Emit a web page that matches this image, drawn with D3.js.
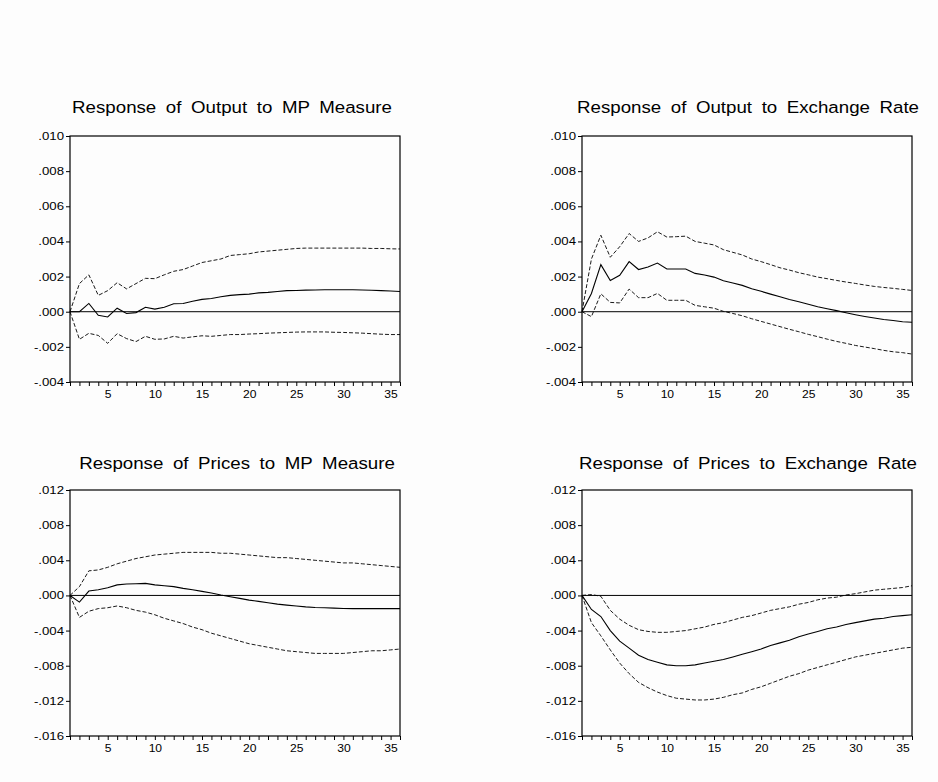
<!DOCTYPE html>
<html>
<head>
<meta charset="utf-8">
<script src="https://cdn.jsdelivr.net/npm/d3@7"></script>
<style>
  body { margin: 0; background: #fdfdfd; }
  svg { display: block; }
  .title { font-family: "Liberation Sans", Arial, sans-serif; font-size: 17px; word-spacing: 4px; fill: #000; }
  .tick text { font-family: "Liberation Sans", Arial, sans-serif; font-size: 11px; fill: #000; }
</style>
</head>
<body>
<div id="chart"></div>
<script>
// Horizon (periods 1..36)
var periods = d3.range(1, 37);

// Response of Output to MP Measure
var outMpResp = [0, 0, 0.00047, -0.0002, -0.0003, 0.0002, -0.0001, -0.00005, 0.00025, 0.00015,
  0.00025, 0.00045, 0.00047, 0.0006, 0.0007, 0.00075, 0.00085, 0.00093, 0.00097, 0.001,
  0.00107, 0.0011, 0.00115, 0.0012, 0.00121, 0.00123, 0.00124, 0.00125, 0.00125, 0.00125,
  0.00125, 0.00124, 0.00122, 0.0012, 0.00118, 0.00115];
var outMpUpper = [0, 0.0016, 0.0021, 0.00093, 0.0012, 0.00165, 0.0013, 0.0016, 0.0019, 0.00188,
  0.0021, 0.0023, 0.0024, 0.0026, 0.0028, 0.0029, 0.003, 0.0032, 0.00325, 0.0033,
  0.0034, 0.00345, 0.0035, 0.00355, 0.0036, 0.00362, 0.00362, 0.00362, 0.00362, 0.00362,
  0.00362, 0.00362, 0.0036, 0.0036, 0.00358, 0.00357];
var outMpLower = [0, -0.00157, -0.00123, -0.00135, -0.0018, -0.00125, -0.00153, -0.0017, -0.0014, -0.00157,
  -0.00155, -0.0014, -0.0015, -0.00143, -0.00137, -0.0014, -0.00135, -0.0013, -0.0013, -0.00127,
  -0.00125, -0.00122, -0.0012, -0.00118, -0.00116, -0.00115, -0.00115, -0.00115, -0.00117, -0.00118,
  -0.0012, -0.00122, -0.00125, -0.00128, -0.0013, -0.0013];

// Response of Output to Exchange Rate
var outErResp = [0, 0.00104, 0.00268, 0.00178, 0.00207, 0.00285, 0.0024, 0.00254, 0.00277, 0.00243,
  0.00243, 0.00243, 0.00218, 0.00209, 0.00197, 0.00176, 0.00163, 0.0015, 0.00131, 0.00116,
  0.001, 0.00085, 0.0007, 0.00057, 0.00042, 0.00028, 0.00017, 0.00006, -0.00006, -0.00017,
  -0.00027, -0.00036, -0.00044, -0.0005, -0.00057, -0.0006];
var outErUpper = [0, 0.003, 0.00435, 0.0031, 0.0037, 0.00445, 0.004, 0.0042, 0.00455, 0.00425,
  0.00427, 0.0043, 0.004, 0.0039, 0.0038, 0.00353, 0.00338, 0.00323, 0.003, 0.00285,
  0.00268, 0.0025, 0.00237, 0.00222, 0.0021, 0.00197, 0.00188, 0.00178, 0.00169, 0.00161,
  0.00152, 0.00144, 0.00138, 0.00133, 0.00127, 0.00121];
var outErLower = [0, -0.00028, 0.00102, 0.00053, 0.0005, 0.00129, 0.0008, 0.0008, 0.00104, 0.00065,
  0.00065, 0.00065, 0.00036, 0.00028, 0.0002, 0.00002, -0.0001, -0.00023, -0.0004, -0.00055,
  -0.0007, -0.00085, -0.001, -0.00114, -0.00129, -0.00142, -0.00156, -0.00169, -0.0018, -0.00192,
  -0.00201, -0.0021, -0.0022, -0.00228, -0.00233, -0.00241];

// Response of Prices to MP Measure
var priMpResp = [0, -0.00076, 0.0005, 0.00065, 0.00087, 0.0012, 0.0013, 0.00133, 0.00137, 0.0012,
  0.0011, 0.001, 0.0008, 0.00065, 0.00046, 0.00027, 0.00004, -0.00015, -0.00034, -0.00053,
  -0.00068, -0.00084, -0.00099, -0.0011, -0.0012, -0.0013, -0.00137, -0.0014, -0.00144, -0.00148,
  -0.0015, -0.0015, -0.0015, -0.0015, -0.0015, -0.0015];
var priMpUpper = [0, 0.001, 0.0028, 0.0029, 0.0032, 0.0036, 0.0039, 0.0042, 0.0044, 0.0046,
  0.0047, 0.0048, 0.0049, 0.0049, 0.0049, 0.0049, 0.0048, 0.0048, 0.0047, 0.0046,
  0.0045, 0.0044, 0.0043, 0.0043, 0.0042, 0.0041, 0.004, 0.0039, 0.0038, 0.0037,
  0.0037, 0.0036, 0.0035, 0.0034, 0.0033, 0.0032];
var priMpLower = [0, -0.0025, -0.0018, -0.0015, -0.0014, -0.0012, -0.0014, -0.0017, -0.0019, -0.0022,
  -0.0026, -0.0029, -0.0032, -0.0036, -0.0039, -0.0043, -0.0046, -0.0049, -0.0052, -0.0055,
  -0.0057, -0.0059, -0.0061, -0.0063, -0.0064, -0.0065, -0.0066, -0.0066, -0.0066, -0.0066,
  -0.0065, -0.0064, -0.0063, -0.0063, -0.0062, -0.0061];

// Response of Prices to Exchange Rate
var priErResp = [0, -0.0016, -0.0024, -0.004, -0.0052, -0.006, -0.0068, -0.0073, -0.0076, -0.0079,
  -0.008, -0.008, -0.0079, -0.0077, -0.0075, -0.0073, -0.007, -0.0067, -0.0064, -0.0061,
  -0.0057, -0.0054, -0.0051, -0.0047, -0.0044, -0.0041, -0.0038, -0.0036, -0.0033, -0.0031,
  -0.0029, -0.0027, -0.0026, -0.0024, -0.0023, -0.0022];
var priErUpper = [0, 0.0001, -0.0001, -0.0017, -0.0027, -0.0034, -0.0039, -0.0041, -0.0042, -0.0042,
  -0.0041, -0.004, -0.0038, -0.0036, -0.0033, -0.0031, -0.0028, -0.0025, -0.0023, -0.002,
  -0.0017, -0.0015, -0.0013, -0.001, -0.0008, -0.0005, -0.0003, -0.0002, 0.00005, 0.0002,
  0.0004, 0.0006, 0.0007, 0.0008, 0.0009, 0.0011];
var priErLower = [0, -0.0031, -0.0046, -0.0062, -0.0077, -0.0089, -0.0099, -0.0105, -0.011, -0.0114,
  -0.0117, -0.0118, -0.0119, -0.0119, -0.0118, -0.0116, -0.0113, -0.0111, -0.0107, -0.0104,
  -0.01, -0.0096, -0.0092, -0.0089, -0.0085, -0.0082, -0.0079, -0.0076, -0.0073, -0.007,
  -0.0068, -0.0066, -0.0064, -0.0062, -0.006, -0.0059];

// Axis tick values
var outputTicks = [-0.004, -0.002, 0, 0.002, 0.004, 0.006, 0.008, 0.010];
var pricesTicks = [-0.016, -0.012, -0.008, -0.004, 0, 0.004, 0.008, 0.012];
var xLabelTicks = [5, 10, 15, 20, 25, 30, 35];

var panels = [
  { title: "Response of Output to MP Measure", resp: outMpResp, upper: outMpUpper, lower: outMpLower, ticks: outputTicks, x: 70, y: 136, tx: 232, ty: 113 },
  { title: "Response of Output to Exchange Rate", resp: outErResp, upper: outErUpper, lower: outErLower, ticks: outputTicks, x: 582, y: 136, tx: 748, ty: 113 },
  { title: "Response of Prices to MP Measure", resp: priMpResp, upper: priMpUpper, lower: priMpLower, ticks: pricesTicks, x: 70, y: 490, tx: 237, ty: 469 },
  { title: "Response of Prices to Exchange Rate", resp: priErResp, upper: priErUpper, lower: priErLower, ticks: pricesTicks, x: 582, y: 490, tx: 748, ty: 469 }
];

// Canvas
var svgWidth = 938;
var svgHeight = 782;
var width = 330;
var height = 246;

// the original graph was stretched sideways, so text is a bit wider than tall
var yStretch = 1.2;
var xStretch = 1.1;

var svg = d3.select("#chart")
  .append("svg")
  .attr("width", svgWidth)
  .attr("height", svgHeight);

panels.forEach(function(p) {

  // title
  svg.append("text")
    .attr("class", "title")
    .attr("transform", `translate(${p.tx}, ${p.ty}) scale(1.1, 1)`)
    .attr("text-anchor", "middle")
    .text(p.title);

  var g = svg.append("g")
    .attr("transform", `translate(${p.x}, ${p.y})`);

  var xScale = d3.scaleLinear()
    .domain([1, 36])
    .range([0, width]);

  var yScale = d3.scaleLinear()
    .domain(d3.extent(p.ticks))
    .range([height, 0]);

  // frame
  g.append("rect")
    .attr("width", width)
    .attr("height", height)
    .attr("fill", "none")
    .attr("stroke", "#000")
    .attr("stroke-width", 1.2);

  // x axis: a tick at every period, labels every 5
  var bottomAxis = d3.axisBottom(xScale)
    .tickValues(periods)
    .tickSize(4)
    .tickPadding(4)
    .tickFormat(d => xLabelTicks.indexOf(d) >= 0 ? d : "");

  g.append("g")
    .attr("transform", `translate(0, ${height})`)
    .call(bottomAxis)
    .call(a => a.select(".domain").remove())
    .selectAll(".tick text")
    .attr("transform", `scale(${xStretch}, 1)`);

  // y axis
  var leftAxis = d3.axisLeft(yScale)
    .tickValues(p.ticks)
    .tickSize(4)
    .tickPadding(1)
    .tickFormat(d => d3.format(".3f")(d).replace("\u2212", "-").replace("0.", "."));

  g.append("g")
    .call(leftAxis)
    .call(a => a.select(".domain").remove())
    .selectAll(".tick text")
    .attr("transform", `scale(${yStretch}, 1)`);

  // zero line
  g.append("line")
    .attr("x1", 0)
    .attr("x2", width)
    .attr("y1", yScale(0))
    .attr("y2", yScale(0))
    .attr("stroke", "#000")
    .attr("stroke-width", 1);

  var line = d3.line()
    .x((d, i) => xScale(periods[i]))
    .y(d => yScale(d));

  // confidence bands
  [p.upper, p.lower].forEach(function(band) {
    g.append("path")
      .datum(band)
      .attr("d", line)
      .attr("fill", "none")
      .attr("stroke", "#000")
      .attr("stroke-width", 0.9)
      .attr("stroke-dasharray", "4,2");
  });

  // impulse response
  g.append("path")
    .datum(p.resp)
    .attr("d", line)
    .attr("fill", "none")
    .attr("stroke", "#000")
    .attr("stroke-width", 1.1);
});
</script>
</body>
</html>
